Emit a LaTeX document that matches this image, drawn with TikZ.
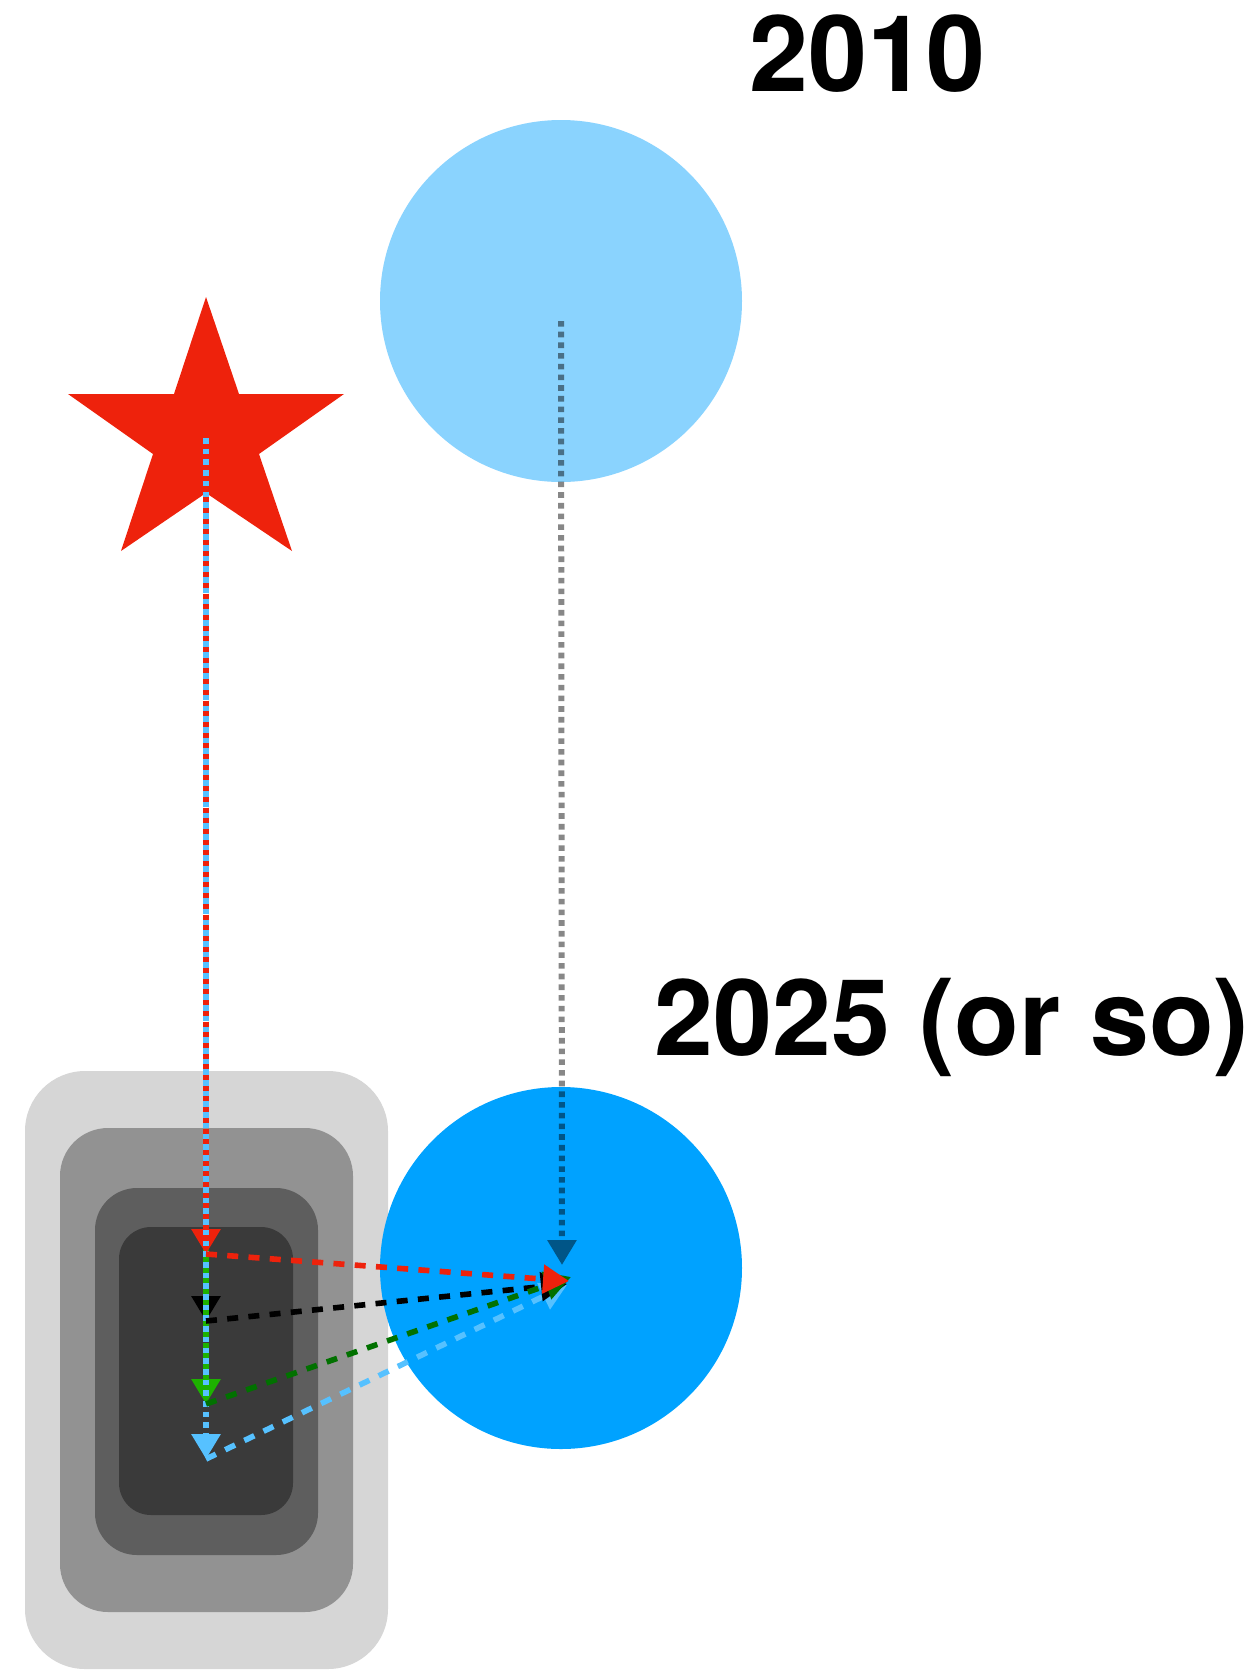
\documentclass[tikz,border=0pt]{standalone}
\usepackage{fontspec}
\setmainfont{TeX Gyre Heros}
\usetikzlibrary{arrows.meta}

\definecolor{plateA}{HTML}{D6D6D6}
\definecolor{plateB}{HTML}{929292}
\definecolor{plateC}{HTML}{5E5E5E}
\definecolor{plateD}{HTML}{3A3A3A}
\definecolor{paleblue}{HTML}{8AD3FE}
\definecolor{deepblue}{HTML}{00A2FF}
\definecolor{starred}{HTML}{EE220C}
\definecolor{leafgreen}{HTML}{1DB100}
\definecolor{darkgreen}{HTML}{017100}
\definecolor{skyblue}{HTML}{56C1FF}

\tikzset{
  plate/.style={rounded corners=#1},
  dotline/.style={line width=6pt, dash pattern=on 5.6pt off 5.1pt, -{Triangle[width=28pt,length=25pt]}},
  dashline/.style={line width=5.6pt, dash pattern=on 11pt off 10.3pt, -{Triangle[width=28pt,length=26pt]}},
  yearlabel/.style={inner sep=0pt, anchor=base west, font=\fontsize{106}{120}\selectfont\bfseries},
}

\begin{document}
\begin{tikzpicture}[x=1pt, y=-1pt]
  \useasboundingbox (0,0) rectangle (1255,1671);

  % nested rounded plates
  \fill[plateA, plate=60pt] (25,1071) rectangle (388,1669);
  \fill[plateB, plate=48pt] (60,1128) rectangle (353,1612);
  \fill[plateC, plate=42pt] (95,1188) rectangle (318,1555);
  \fill[plateD, plate=32pt] (119,1227) rectangle (293,1515);

  % the two discs
  \fill[paleblue] (561,301) circle (181pt);
  \fill[deepblue] (561,1268) circle (181pt);
  \coordinate (oldc) at (561,321);
  \coordinate (newc) at (562,1265);

  % star
  \fill[starred] (206,297) -- (174,394) -- (68,394) -- (153,454) -- (121,551)
    -- (206,493) -- (292,551) -- (259,454) -- (344,394) -- (239,394) -- cycle;
  \coordinate (starc) at (206,438);

  % landing points inside the plates
  \coordinate (tipR) at (206,1254);
  \coordinate (tipK) at (206,1321);
  \coordinate (tipG) at (206,1404);
  \coordinate (tipB) at (206,1459);

  % arrival points on the lower disc
  \coordinate (goalR) at (569,1281);
  \coordinate (goalK) at (567,1284);
  \coordinate (goalG) at (571,1277);
  \coordinate (goalB) at (567,1285);

  % drift of the disc, translucent as one piece
  \begin{scope}[transparency group, opacity=0.47]
    \draw[dotline, black] (oldc) -- (newc);
  \end{scope}

  % vertical drops from the star
  \draw[dotline, black] (starc) -- (tipK);
  \draw[dotline, leafgreen, dash phase=5pt] (starc) -- (tipG);
  \draw[dotline, starred, dash phase=5pt] (starc) -- (tipR);
  \draw[dotline, skyblue] (starc) -- (tipB);

  % corrections towards the disc
  \draw[dashline, skyblue] (tipB) -- (goalB);
  \draw[dashline, black] (tipK) -- (goalK);
  \draw[dashline, darkgreen] (tipG) -- (goalG);
  \draw[dashline, starred] (tipR) -- (goalR);

  % year labels
  \node[yearlabel] (y2010) at (749,91) {2010};
  \node[yearlabel] (y2025) at (654,1055) {2025 (or so)};
\end{tikzpicture}
\end{document}
